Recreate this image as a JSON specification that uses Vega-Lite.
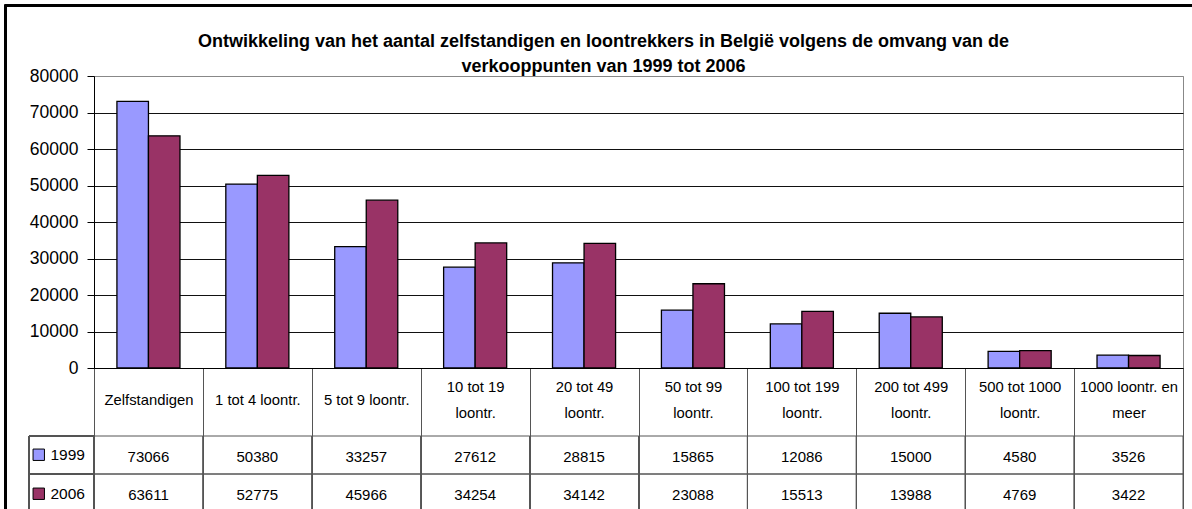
{
  "$schema": "https://vega.github.io/schema/vega-lite/v6.json",
  "width": 1089,
  "height": 292,
  "autosize": {"type": "none"},
  "padding": {"left": 94, "top": 76, "right": 9, "bottom": 141},
  "background": "white",
  "config": {
    "font": "Liberation Sans",
    "view": {"stroke": "#888888", "strokeWidth": 1}
  },
  "title": {
    "text": ["Ontwikkeling van het aantal zelfstandigen en loontrekkers in België volgens de omvang van de", "verkooppunten van 1999 tot 2006"],
    "font": "Liberation Sans",
    "fontSize": 18,
    "fontWeight": "bold",
    "color": "#000000",
    "anchor": "middle",
    "dx": -35,
    "offset": -71,
    "lineHeight": 25
  },
  "data": {
    "values": [
      {"cat": "Zelfstandigen", "year": "1999", "value": 73066},
      {"cat": "Zelfstandigen", "year": "2006", "value": 63611},
      {"cat": "1 tot 4 loontr.", "year": "1999", "value": 50380},
      {"cat": "1 tot 4 loontr.", "year": "2006", "value": 52775},
      {"cat": "5 tot 9 loontr.", "year": "1999", "value": 33257},
      {"cat": "5 tot 9 loontr.", "year": "2006", "value": 45966},
      {"cat": "10 tot 19 loontr.", "year": "1999", "value": 27612},
      {"cat": "10 tot 19 loontr.", "year": "2006", "value": 34254},
      {"cat": "20 tot 49 loontr.", "year": "1999", "value": 28815},
      {"cat": "20 tot 49 loontr.", "year": "2006", "value": 34142},
      {"cat": "50 tot 99 loontr.", "year": "1999", "value": 15865},
      {"cat": "50 tot 99 loontr.", "year": "2006", "value": 23088},
      {"cat": "100 tot 199 loontr.", "year": "1999", "value": 12086},
      {"cat": "100 tot 199 loontr.", "year": "2006", "value": 15513},
      {"cat": "200 tot 499 loontr.", "year": "1999", "value": 15000},
      {"cat": "200 tot 499 loontr.", "year": "2006", "value": 13988},
      {"cat": "500 tot 1000 loontr.", "year": "1999", "value": 4580},
      {"cat": "500 tot 1000 loontr.", "year": "2006", "value": 4769},
      {"cat": "1000 loontr. en meer", "year": "1999", "value": 3526},
      {"cat": "1000 loontr. en meer", "year": "2006", "value": 3422}
    ]
  },
  "resolve": {"scale": {"x": "independent", "y": "independent"}},
  "layer": [
    {
      "mark": {"type": "bar", "stroke": "#000000", "strokeWidth": 1.3},
      "encoding": {
        "x": {
          "field": "cat", "type": "nominal", "sort": null,
          "scale": {"paddingInner": 0, "paddingOuter": 0},
          "axis": {
            "title": null,
            "domain": true, "domainColor": "#000000", "domainWidth": 1,
            "ticks": true, "tickBand": "extent", "tickSize": 141, "tickColor": "#555555", "tickWidth": 1,
            "grid": false,
            "labelAngle": 0,
            "labelFont": "Liberation Sans", "labelFontSize": 14.8, "labelColor": "#000000",
            "labelBaseline": {"condition": {"test": "isString(datum.value) && length(datum.value) > 15", "value": "line-bottom"}, "value": "middle"},
            "labelPadding": -109,
            "labelLineHeight": 26,
            "labelLimit": 0, "labelOverlap": false,
            "labelExpr": "length(datum.label) > 15 ? [substring(datum.label, 0, lastindexof(datum.label, ' ')), substring(datum.label, lastindexof(datum.label, ' ') + 1)] : datum.label"
          }
        },
        "xOffset": {"field": "year", "type": "nominal", "scale": {"paddingInner": 0, "paddingOuter": 0.727}},
        "y": {
          "field": "value", "type": "quantitative",
          "scale": {"domain": [0, 80000], "nice": false},
          "axis": {
            "title": null,
            "values": [0, 10000, 20000, 30000, 40000, 50000, 60000, 70000, 80000],
            "format": "d",
            "labelFont": "Liberation Sans", "labelFontSize": 17.5, "labelColor": "#000000",
            "labelPadding": 9, "tickSize": 7, "tickColor": "#000000",
            "domainColor": "#000000",
            "grid": true,
            "gridColor": {"condition": {"test": "datum.value === 80000", "value": "#888888"}, "value": "#111111"}
          }
        },
        "color": {
          "field": "year", "type": "nominal",
          "scale": {"domain": ["1999", "2006"], "range": ["#9999FF", "#993366"]},
          "legend": {
            "orient": "none", "legendX": -63, "legendY": 371,
            "title": null, "symbolType": "square", "symbolSize": 130,
            "symbolStrokeColor": "#000000", "symbolStrokeWidth": 1, "symbolOpacity": 1,
            "labelFont": "Liberation Sans", "labelFontSize": 15.5, "labelColor": "#000000",
            "labelOffset": 4, "rowPadding": 22, "padding": 0
          }
        }
      }
    },
    {
      "mark": {"type": "rect", "fill": "transparent", "stroke": "#555555", "strokeWidth": 1},
      "encoding": {
        "x": {"field": "cat", "type": "nominal", "sort": null, "scale": {"paddingInner": 0, "paddingOuter": 0}, "axis": null},
        "y": {"field": "year", "type": "nominal", "scale": {"type": "band", "domain": ["1999", "2006"], "range": [360, 436], "paddingInner": 0, "paddingOuter": 0}, "axis": null}
      }
    },
    {
      "mark": {"type": "text", "font": "Liberation Sans", "fontSize": 15, "color": "#000000", "baseline": "middle", "dy": 2},
      "encoding": {
        "x": {"field": "cat", "type": "nominal", "sort": null, "scale": {"paddingInner": 0, "paddingOuter": 0}, "axis": null},
        "y": {"field": "year", "type": "nominal", "scale": {"type": "band", "domain": ["1999", "2006"], "range": [360, 436], "paddingInner": 0, "paddingOuter": 0}, "axis": null},
        "text": {"field": "value", "type": "quantitative", "format": "d"}
      }
    },
    {
      "mark": {"type": "rect", "fill": "transparent", "stroke": "#555555", "strokeWidth": 1},
      "encoding": {
        "x": {"datum": "legend", "type": "nominal", "scale": {"type": "band", "range": [-65, 0], "paddingInner": 0, "paddingOuter": 0}, "axis": null},
        "y": {"field": "year", "type": "nominal", "scale": {"type": "band", "domain": ["1999", "2006"], "range": [360, 436], "paddingInner": 0, "paddingOuter": 0}, "axis": null}
      }
    },
    {
      "mark": {"type": "rect", "fill": "transparent", "stroke": "#000000", "strokeWidth": 1.5},
      "encoding": {
        "x": {"datum": "frame", "type": "nominal", "scale": {"type": "band", "range": [-88.5, 1120], "paddingInner": 0, "paddingOuter": 0}, "axis": null},
        "y": {"datum": "frame", "type": "nominal", "scale": {"type": "band", "range": [-70.5, 460], "paddingInner": 0, "paddingOuter": 0}, "axis": null}
      }
    }
  ]
}
